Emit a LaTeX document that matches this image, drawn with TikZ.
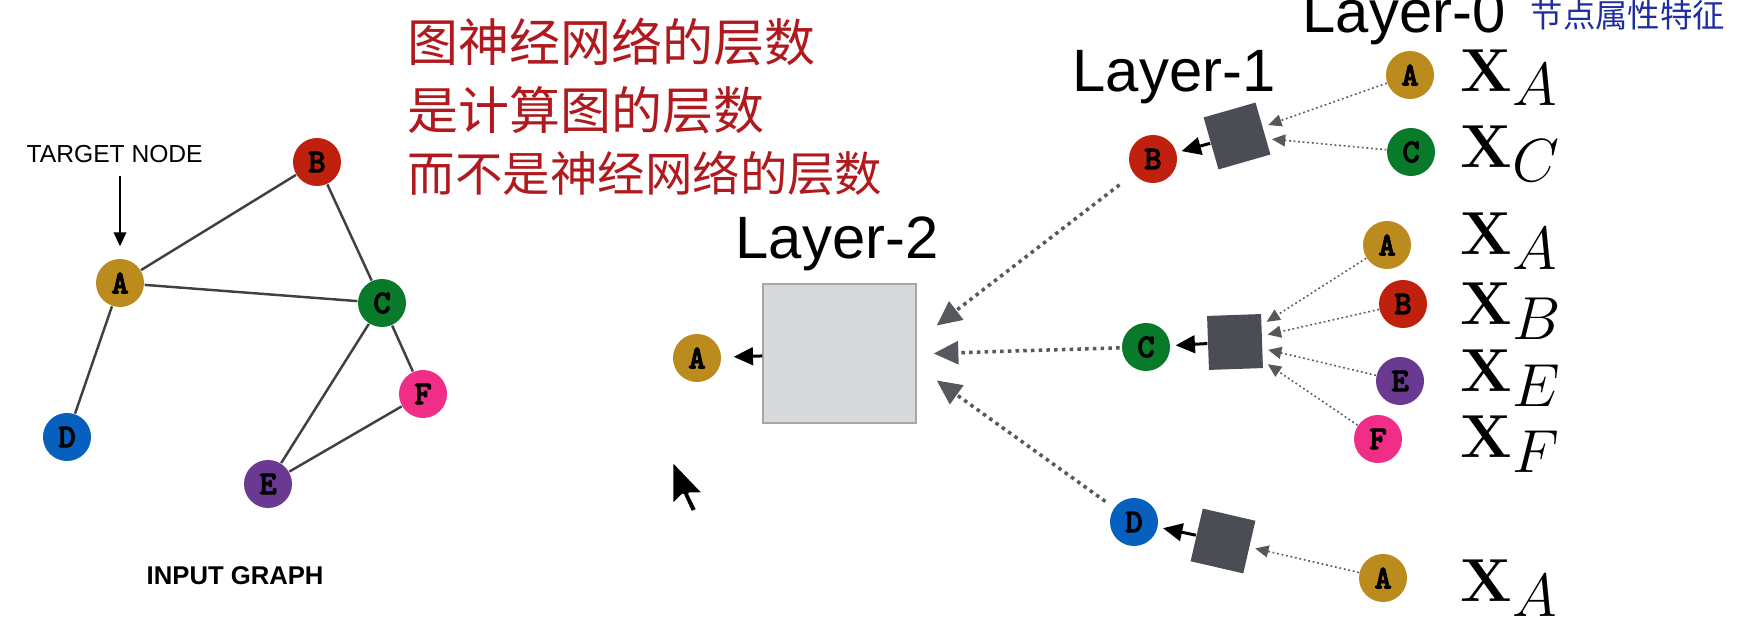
\documentclass[tikz,border=0pt]{standalone}
\usepackage[no-math]{fontspec}
\setmainfont{Liberation Sans}
\newfontfamily\cjk{Noto Sans CJK SC}
\newfontfamily\nodefont{lmmonolt10-bold.otf}[FakeBold=2.5]
\usetikzlibrary{arrows.meta}

\definecolor{colA}{HTML}{BC8B1E}
\definecolor{colB}{HTML}{C0200E}
\definecolor{colC}{HTML}{087A2A}
\definecolor{colD}{HTML}{0760BE}
\definecolor{colE}{HTML}{6A3A92}
\definecolor{colF}{HTML}{F02D87}
\definecolor{aggdark}{HTML}{4A4D53}
\definecolor{agglight}{HTML}{D8D9DC}
\definecolor{dotgray}{HTML}{55585C}
\definecolor{edgegray}{HTML}{404040}
\definecolor{inkred}{HTML}{B01A1E}
\definecolor{inkblue}{HTML}{1E2E9E}

\begin{document}
\begin{tikzpicture}[
  x=0.01cm,y=-0.01cm,
  font=\fontsize{17}{20}\selectfont,
  vtx/.style={circle,fill=col#1,minimum size=0.48cm,inner sep=0pt,
              font=\nodefont\fontsize{9.5}{9.5}\selectfont},
  agg/.style={fill=aggdark,minimum size=0.54cm,inner sep=0pt},
  feat/.style={anchor=base west,inner sep=0pt,font=\fontsize{18.5}{20}\selectfont},
  layer/.style={anchor=base west,inner sep=0pt},
  caption/.style={anchor=base west,inner sep=0pt,font=\fontsize{7}{8}\selectfont},
  note/.style={anchor=base west,inner sep=0pt,inkred,
               font=\cjk\fontsize{14.5}{16}\selectfont},
  edge/.style={edgegray,line width=0.7pt},
  pointer/.style={black,line width=0.45pt,-{Triangle[length=4pt,width=3.6pt]}},
  msg/.style={dotgray,line width=0.45pt,dash pattern=on 0.5pt off 0.8pt,
              -{Triangle[length=3.8pt,width=3.4pt]},shorten >=1.5pt},
  bigmsg/.style={dotgray,line width=1pt,dash pattern=on 1pt off 1.2pt,
                 -{Triangle[length=7pt,width=6.5pt]}},
  outarrow/.style={black,line width=0.85pt,-{Triangle[length=5.5pt,width=5pt]},
                   shorten >=1.4pt}
]
  \path[use as bounding box] (0,0) rectangle (1761,628);

  % input graph
  \foreach \n/\x/\y in {A/120/283,B/317/162,C/382/303,D/67/437,E/268/484,F/423/394}
    \node[vtx=\n] (g\n) at (\x,\y) {\n};
  \foreach \a/\b in {A/B,A/C,A/D,B/C,C/E,C/F,E/F}
    \draw[edge] (g\a) -- (g\b);
  \node[caption] (target) at (26,163) {TARGET NODE};
  \draw[pointer,shorten <=3.4pt,shorten >=3.4pt] (target.south -| gA) -- (gA);
  \node[caption,font=\bfseries\fontsize{7.3}{8}\selectfont] (inputcap)
    at (146,585) {INPUT GRAPH};

  \node[note] (note1) at (407,62) {图神经网络的层数};
  \node[note] (note2) at (407,130) {是计算图的层数};
  \node[note,font=\cjk\fontsize{13.5}{15}\selectfont] (note3)
    at (407,192) {而不是神经网络的层数};

  % computation graph
  \node[layer] (lab2) at (735,259) {Layer-2};
  \node[draw=gray!70,line width=0.4pt,fill=agglight,minimum width=1.53cm,
        minimum height=1.39cm,inner sep=0pt] (box2) at (839.5,353.5) {};
  \node[vtx=A] (l2A) at (697,358) {A};
  \draw[outarrow,shorten >=3.4pt] (box2) -- (l2A);

  \node[layer] (lab1) at (1072,92) {Layer-1};
  \foreach \n/\x/\y/\r/\ax/\ay in {B/1153/159/16/1237/136,
                                   C/1146/347/2/1235/342,
                                   D/1134/522/-13/1223/541}{
    \node[vtx=\n] (l1\n) at (\x,\y) {\n};
    \node[agg,rotate=\r] (sq\n) at (\ax,\ay) {};
    \draw[outarrow] (sq\n) -- (l1\n);
  }
  \coordinate (in2B) at ([shift={(20,-28)}]box2.east);
  \coordinate (in2C) at ([shift={(17,0)}]box2.east);
  \coordinate (in2D) at ([shift={(20,27)}]box2.east);
  \draw[bigmsg,shorten <=5pt] (l1B) -- (in2B);
  \draw[bigmsg,shorten <=0.5pt] (l1C) -- (in2C);
  \draw[bigmsg,shorten <=3pt] (l1D) -- (in2D);

  \node[layer] (lab0) at (1302,33) {Layer-0};
  \node[note,inkblue,font=\cjk\fontsize{9.2}{10}\selectfont] (attr)
    at (1530,28) {节点属性特征};
  \foreach \g/\n/\x/\y/\base in {B/A/1410/75/92,B/C/1411/152/168,
                                 C/A/1387/245/255,C/B/1403/304/325,
                                 C/E/1400/381/392,C/F/1378/439/458,
                                 D/A/1383/578/602}{
    \node[vtx=\n] (l0\g\n) at (\x,\y) {\n};
    \node[feat] (x\g\n) at (1460,\base)
      {$\mathbf{X}$\raisebox{-0.14cm}{$\n$}};
    \draw[msg] (l0\g\n) -- (sq\g);
  }

  % pointer
  \draw[white,line width=0.8pt,fill=black,line join=round]
    (672,460) -- (672,505.9) -- (682.8,495.1) -- (690.9,512.7)
    -- (697.7,510) -- (689.6,493.8) -- (704.4,493.8) -- cycle;
\end{tikzpicture}
\end{document}
